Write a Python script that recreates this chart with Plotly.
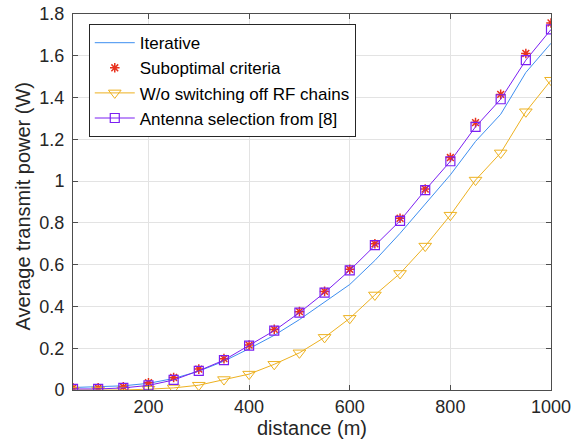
import plotly.graph_objects as go

distance = [50, 100, 150, 200, 250, 300, 350, 400, 450, 500, 550, 600, 650, 700, 750, 800, 850, 900, 950, 1000]
iterative = [0.012, 0.015, 0.02, 0.032, 0.055, 0.09, 0.138, 0.198, 0.262, 0.337, 0.42, 0.505, 0.62, 0.75, 0.89, 1.03, 1.19, 1.32, 1.52, 1.66]
suboptimal = [0.01, 0.01, 0.015, 0.035, 0.06, 0.1, 0.15, 0.215, 0.29, 0.375, 0.472, 0.578, 0.70, 0.822, 0.962, 1.113, 1.28, 1.415, 1.611, 1.757]
wo_switching = [0.0, 0.0, 0.0, 0.004, 0.01, 0.023, 0.05, 0.076, 0.123, 0.178, 0.252, 0.343, 0.455, 0.558, 0.689, 0.837, 1.005, 1.135, 1.332, 1.483]
antenna_sel = [0.005, 0.005, 0.01, 0.022, 0.048, 0.092, 0.143, 0.212, 0.284, 0.37, 0.466, 0.573, 0.694, 0.81, 0.957, 1.095, 1.26, 1.392, 1.579, 1.726]

x_ticks = [200, 400, 600, 800, 1000]
y_ticks = [0, 0.2, 0.4, 0.6, 0.8, 1, 1.2, 1.4, 1.6, 1.8]
y_ticktext = ["0", "0.2", "0.4", "0.6", "0.8", "1", "1.2", "1.4", "1.6", "1.8"]

FONT = "Liberation Sans, Arial, Helvetica, sans-serif"

fig = go.Figure()
fig.add_trace(go.Scatter(x=distance, y=iterative, mode="lines", name="Iterative",
                         line=dict(color="#3D8EF0", width=1)))
fig.add_trace(go.Scatter(x=distance, y=suboptimal, mode="markers", name="Suboptimal criteria",
                         marker=dict(symbol="asterisk-open", size=8, color="#E8321E",
                                     line=dict(color="#E8321E", width=1.5))))
fig.add_trace(go.Scatter(x=distance, y=wo_switching, mode="lines+markers", name="W/o switching off RF chains",
                         line=dict(color="#EDB120", width=1),
                         marker=dict(symbol="triangle-down-open", size=11, color="#EDB120",
                                     line=dict(color="#EDB120", width=1))))
fig.add_trace(go.Scatter(x=distance, y=antenna_sel, mode="lines+markers", name="Antenna selection from [8]",
                         line=dict(color="#7B1FF2", width=1),
                         marker=dict(symbol="square-open", size=9, color="#7B1FF2",
                                     line=dict(color="#7B1FF2", width=1.2))))

axis_common = dict(showgrid=True, gridcolor="#E3E3E3", gridwidth=1, zeroline=False,
                   showline=True, linecolor="#4D4D4D", linewidth=1, mirror="allticks",
                   ticks="inside", ticklen=5, tickcolor="#4D4D4D", automargin=False,
                   tickfont=dict(family=FONT, size=18, color="#262626"))

fig.update_xaxes(range=[50, 1000], tickvals=x_ticks, ticklabelstandoff=0, **axis_common)
fig.update_yaxes(range=[0, 1.8], tickvals=y_ticks, ticktext=y_ticktext, ticklabelstandoff=4, **axis_common)

fig.add_annotation(text="distance (m)", xref="paper", yref="paper", x=0.5, y=-0.101,
                   xanchor="center", yanchor="middle", showarrow=False,
                   font=dict(family=FONT, size=20, color="#262626"))
fig.add_annotation(text="Average transmit power (W)", xref="paper", yref="paper", x=-0.105, y=0.49,
                   xanchor="center", yanchor="middle", showarrow=False, textangle=-90,
                   font=dict(family=FONT, size=20, color="#262626"))

fig.update_layout(
    width=584, height=441,
    margin=dict(l=73, r=33, t=14, b=51, autoexpand=False),
    paper_bgcolor="white", plot_bgcolor="white",
    legend=dict(x=0.033, y=0.973, xanchor="left", yanchor="top",
                bgcolor="white", bordercolor="#262626", borderwidth=1,
                font=dict(family=FONT, size=17, color="#000000"),
                tracegroupgap=0, itemwidth=40),
    showlegend=True,
)

fig.write_html("out.html", config={"displayModeBar": False},
               post_script="document.body.style.margin='0px';document.body.style.overflow='hidden';")
